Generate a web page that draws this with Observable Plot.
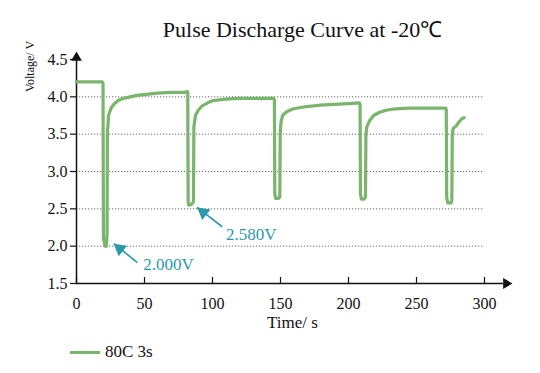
<!DOCTYPE html>
<html><head><meta charset="utf-8">
<script src="https://cdn.jsdelivr.net/npm/d3@7"></script>
<script src="https://cdn.jsdelivr.net/npm/@observablehq/plot@0.6"></script>
<style>
body{margin:0;background:#fff;font-family:"Liberation Serif",serif;}
#chart svg, #chart svg text{font-family:"Liberation Serif",serif !important;}
#legend{position:relative;height:43px;width:540px;}
#legend .sw{position:absolute;left:70px;top:21px;width:30px;height:3px;background:#79b56c;}
#legend .lb{position:absolute;left:105px;top:13px;font-size:17px;line-height:18px;color:#111;}
</style></head><body>
<div id="chart"></div>
<div id="legend"><span class="sw"></span><span class="lb">80C 3s</span></div>
<script>
const title = "Pulse Discharge Curve at -20\u2103";
const xLabel = "Time/ s";
const yLabel = "Voltage/ V";
const seriesName = "80C 3s";
const xTicks = [0, 50, 100, 150, 200, 250, 300];
const yTicks = [1.5, 2.0, 2.5, 3.0, 3.5, 4.0, 4.5];
const gridV = [2.0, 2.5, 3.0, 3.5, 4.0];
const time = [
  0,19,19.5,19.8,20.5,21,22,22.5,22.7,23.1,23.5,24.5,25.5,27.5,30.5,34.5,39.5,44.5,49.5,54.5,59.5,69.5,79.5,81.5,
  81.8,82.1,82.5,84.5,85.5,86,86.3,86.7,87.5,89.5,92.5,96.5,100.5,109.5,119.5,129.5,139.5,145,
  145.5,145.8,146.5,148.5,149.5,149.8,150.3,151.5,154.5,159.5,169.5,179.5,189.5,199.5,208,
  208.5,208.8,209.5,211.5,212.5,212.8,213.5,215.5,218.5,222.5,227.5,234.5,244.5,259.5,271.5,
  271.9,272.2,273,275.5,276,276.3,277,278.5,279.5,281.5,283.5,285
];
const voltage = [
  4.20,4.20,4.18,2.10,2.05,2.00,2.00,2.18,3.55,3.60,3.75,3.80,3.85,3.90,3.95,3.98,4.00,4.02,4.03,4.04,4.05,4.06,4.06,4.07,
  4.06,2.60,2.55,2.56,2.58,2.60,3.60,3.65,3.75,3.82,3.88,3.92,3.95,3.97,3.98,3.98,3.98,3.98,
  3.96,2.70,2.64,2.64,2.66,3.50,3.65,3.75,3.80,3.84,3.87,3.89,3.90,3.91,3.92,
  3.90,2.70,2.63,2.63,2.66,3.50,3.60,3.68,3.75,3.79,3.82,3.84,3.85,3.85,3.85,
  3.83,2.65,2.58,2.58,2.62,3.50,3.58,3.60,3.62,3.67,3.71,3.72
];
const annText = ["2.000V", "2.580V"];
const annTip = [[27.4, 2.035], [88.8, 2.52]];
const annTail = [[44.8, 1.78], [107.1, 2.26]];
const annPos = [[49, 1.76], [110, 2.16]];

const green = "#79b56c";
const teal = "#2a9aab";
const font = "Liberation Serif, serif";
const data = time.map((t, i) => ({t, v: voltage[i]}));
const ann = annText.map((s, i) => ({s, tx: annTip[i][0], ty: annTip[i][1], ux: annTail[i][0], uy: annTail[i][1], lx: annPos[i][0], ly: annPos[i][1]}));

const chart = Plot.plot({
  width: 540, height: 330,
  marginTop: 59, marginBottom: 47, marginLeft: 76, marginRight: 56,
  style: {fontFamily: font, fontSize: "15px", background: "white", overflow: "visible", color: "#111"},
  x: {domain: [0, 300]},
  y: {domain: [1.5, 4.5]},
  marks: [
    Plot.ruleY(gridV, {x1: 0, x2: 300, stroke: "#666", strokeWidth: 1, strokeDasharray: "1.2,1.8"}),
    Plot.axisY(yTicks, {tickSize: 6, tickPadding: 3, tickFormat: d => d.toFixed(1), label: null, stroke: "#111", strokeWidth: 1.2, fontSize: 16}),
    Plot.axisX(xTicks, {tickSize: 0, tickPadding: 14, label: null, fontSize: 16}),
    Plot.ruleX(xTicks, {y1: 1.5, y2: 1.58, stroke: "#111", strokeWidth: 1.2}),
    Plot.ruleX([0], {y1: 1.5, y2: 4.53, stroke: "#111", strokeWidth: 1.5}),
    Plot.ruleY([1.5], {x1: 0, x2: 314, stroke: "#111", strokeWidth: 1.5}),
    Plot.dot([{x: 0, y: 4.525}], {x: "x", y: "y", symbol: "triangle", r: 4, fill: "#111", stroke: null}),
    Plot.dot([{x: 316, y: 1.5}], {x: "x", y: "y", symbol: "triangle", r: 4, fill: "#111", stroke: null, rotate: 90}),
    Plot.line(data, {x: "t", y: "v", stroke: green, strokeWidth: 3.2, strokeLinejoin: "round"}),
    Plot.link(ann, {x1: "ux", y1: "uy", x2: "tx", y2: "ty", stroke: teal, strokeWidth: 1.6}),
    Plot.dot(ann, {x: "tx", y: "ty", symbol: "triangle", r: 5, fill: teal, stroke: null, rotate: -52, dx: 6, dy: 5}),
    Plot.text(ann, {x: "lx", y: "ly", text: "s", fill: teal, textAnchor: "start", fontSize: 17, fontFamily: font}),
    Plot.text([title], {frameAnchor: "top", lineAnchor: "middle", dx: 22, dy: -30, fontSize: 22, fill: "#111", letterSpacing: "0.6px", fontFamily: font}),
    Plot.text([yLabel], {frameAnchor: "top-left", textAnchor: "middle", lineAnchor: "middle", dx: -46, dy: 7, rotate: -90, fontSize: 12, fill: "#111", fontFamily: font}),
    Plot.text([xLabel], {frameAnchor: "bottom", lineAnchor: "middle", dx: 12, dy: 39, fontSize: 17, fill: "#111", fontFamily: font})
  ]
});
document.getElementById("chart").appendChild(chart);
</script></body></html>
